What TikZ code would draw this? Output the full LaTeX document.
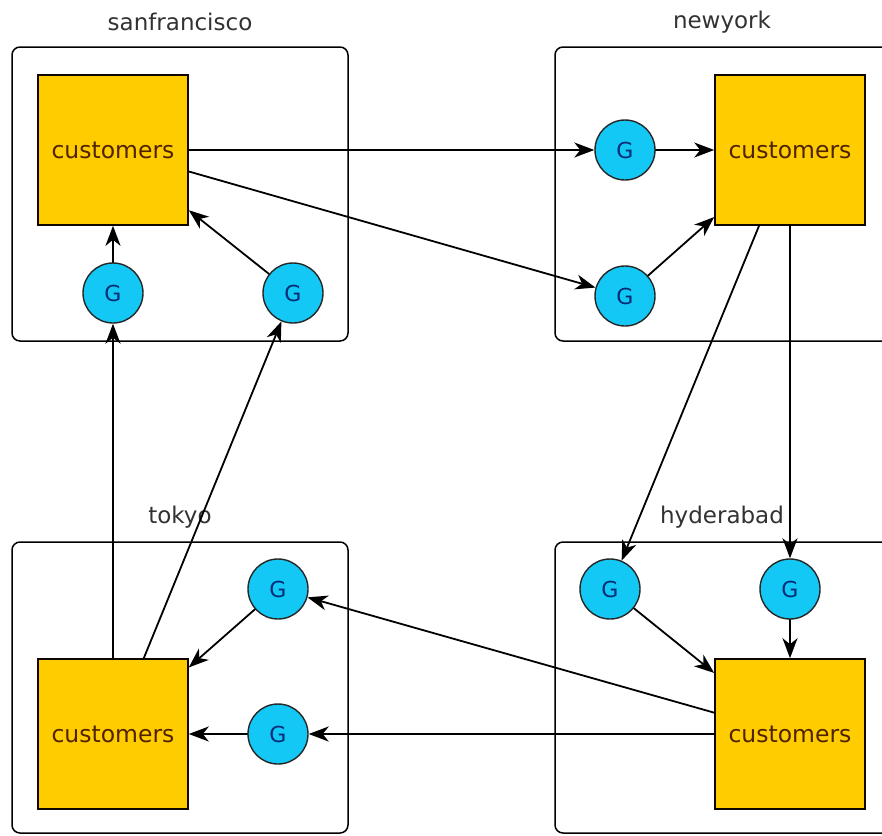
\documentclass[tikz,border=0pt]{standalone}
\usepackage{fontspec}
\setmainfont{DejaVu Sans}
\usetikzlibrary{arrows.meta,positioning}
\definecolor{custgold}{RGB}{255,204,0}
\definecolor{custtext}{RGB}{80,35,0}
\definecolor{gcyan}{RGB}{20,200,245}
\definecolor{gtext}{RGB}{0,45,120}
\definecolor{sitegray}{RGB}{50,50,50}
\begin{document}
\begin{tikzpicture}[x=1pt,y=-1pt,>={Stealth[length=20pt,width=15pt,inset=6pt]},line cap=round,
 site/.style={draw,rounded corners=8pt,line width=1.5pt},
 sitename/.style={font=\fontsize{23}{25}\selectfont,text=sitegray},
 cust/.style={draw=black!80!custtext,fill=custgold,line width=1.6pt,minimum size=150pt,inner sep=0pt,
  font=\fontsize{23.5}{25}\selectfont,text=custtext},
 gnode/.style={circle,draw=black!85,fill=gcyan,line width=1.4pt,minimum size=60pt,inner sep=0pt,
  font=\fontsize{22}{24}\selectfont,text=gtext},
 link/.style={->,line width=1.8pt}]
\clip (0,0) rectangle (882,835);
\fill[white] (0,0) rectangle (882,835);
\draw[site] (12,47) rectangle (348,341);
\draw[site] (555,47) rectangle (895,341);
\draw[site] (12,542) rectangle (348,833);
\draw[site] (555,542) rectangle (895,833);
\node[sitename] (sfname) at (180,22) {sanfrancisco};
\node[sitename] (nyname) at (722,22) {newyork};
\node[sitename] (tkname) at (180,517) {tokyo};
\node[sitename] (hyname) at (722,517) {hyderabad};
\node[cust] (sfcust) at (113,150) {customers};
\node[cust] (nycust) at (790,150) {customers};
\node[cust] (tkcust) at (113,734) {customers};
\node[cust] (hycust) at (790,734) {customers};
\node[gnode] (sfg1) at (113,293) {G};
\node[gnode] (sfg2) at (293,293) {G};
\node[gnode] (nyg1) at (625,150) {G};
\node[gnode] (nyg2) at (625,296) {G};
\node[gnode] (tkg1) at (278,589) {G};
\node[gnode] (tkg2) at (278,734) {G};
\node[gnode] (hyg1) at (610,589) {G};
\node[gnode] (hyg2) at (790,589) {G};
\foreach \a/\b in {sfcust/nyg1,sfcust/nyg2,nyg1/nycust,nyg2/nycust,
 sfg1/sfcust,sfg2/sfcust,tkcust/sfg1,tkcust/sfg2,
 nycust/hyg1,nycust/hyg2,hyg1/hycust,hyg2/hycust,
 hycust/tkg1,hycust/tkg2,tkg1/tkcust,tkg2/tkcust}
 \draw[link] (\a) -- (\b);
\end{tikzpicture}
\end{document}
